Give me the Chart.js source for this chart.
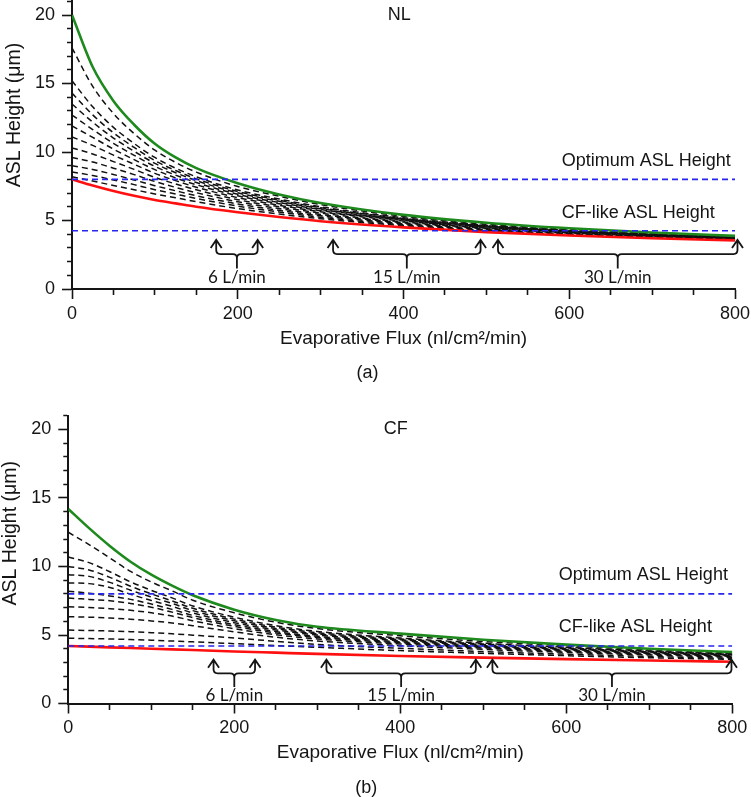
<!DOCTYPE html>
<html><head><meta charset="utf-8">
<script src="https://cdn.jsdelivr.net/npm/chart.js@4/dist/chart.umd.min.js"></script>
<style>
html,body{margin:0;padding:0;background:#fff;width:751px;height:797px;overflow:hidden;}
#wa{position:absolute;left:0;top:0;width:751px;height:390px;}
#wb{position:absolute;left:0;top:390px;width:751px;height:407px;}
</style></head><body>
<div id="wa"><canvas id="ca" width="751" height="390"></canvas></div>
<div id="wb"><canvas id="cb" width="751" height="407"></canvas></div>
<script>
// ---------- data ----------
const flux = [0,25,50,75,100,125,150,200,250,300,400,500,600,700,800];

const nlGreen = [20.0,16.2,13.73,11.99,10.6,9.6,8.82,7.72,6.9,6.28,5.41,4.84,4.43,4.12,3.88];
const nlRed   = [8.0,7.55,7.15,6.8,6.5,6.25,6.0,5.6,5.25,4.95,4.5,4.15,3.9,3.7,3.55];
const nlDashed = [
  [17.6,14.79,12.81,11.34,10.13,9.24,8.53,7.48,6.77,6.16,5.31,4.73,4.35,4.06,3.86],
  [15.2,13.30,11.80,10.62,9.60,8.82,8.19,7.23,6.57,6.00,5.20,4.65,4.29,4.01,3.82],
  [14.3,12.71,11.40,10.33,9.37,8.65,8.04,7.12,6.48,5.93,5.15,4.62,4.26,3.99,3.80],
  [13.5,12.18,11.02,10.05,9.17,8.49,7.91,7.02,6.40,5.86,5.11,4.59,4.24,3.97,3.79],
  [12.7,11.64,10.63,9.76,8.95,8.31,7.77,6.91,6.31,5.80,5.06,4.56,4.21,3.95,3.77],
  [11.9,11.07,10.21,9.44,8.71,8.11,7.61,6.80,6.22,5.72,5.01,4.52,4.19,3.93,3.75],
  [11.1,10.48,9.77,9.10,8.44,7.91,7.43,6.67,6.11,5.64,4.96,4.48,4.15,3.90,3.73],
  [10.3,9.86,9.30,8.73,8.15,7.67,7.24,6.52,6.00,5.54,4.89,4.44,4.12,3.88,3.70],
  [9.6,9.27,8.82,8.35,7.85,7.42,7.03,6.37,5.87,5.44,4.83,4.39,4.08,3.85,3.68],
  [9.0,8.73,8.36,7.96,7.54,7.17,6.81,6.21,5.74,5.34,4.76,4.34,4.04,3.82,3.65],
  [8.55,8.28,7.96,7.62,7.25,6.93,6.61,6.05,5.62,5.24,4.69,4.29,4.01,3.79,3.63],
  [8.2,7.88,7.56,7.25,6.94,6.66,6.37,5.87,5.47,5.13,4.62,4.24,3.97,3.75,3.60]
];

const cfGreen = [14.2,12.8,11.5,10.35,9.4,8.6,7.9,6.85,6.1,5.6,5.1,4.65,4.3,4.0,3.76];
const cfRed   = [4.2,4.15,4.1,4.05,4.0,3.95,3.9,3.8,3.71,3.62,3.47,3.35,3.24,3.14,3.05];
const cfDashed = [
  [12.5,11.60,10.62,9.64,8.87,8.22,7.54,6.62,5.93,5.47,4.95,4.53,4.21,3.92,3.69],
  [10.7,10.28,9.62,8.88,8.26,7.71,7.12,6.30,5.68,5.26,4.78,4.40,4.10,3.83,3.61],
  [10.0,9.75,9.21,8.56,8.00,7.49,6.95,6.16,5.57,5.17,4.71,4.34,4.05,3.80,3.58],
  [9.4,9.28,8.84,8.27,7.77,7.30,6.78,6.04,5.47,5.08,4.65,4.29,4.00,3.76,3.56],
  [8.8,8.75,8.47,7.97,7.52,7.09,6.61,5.90,5.37,5.00,4.58,4.23,3.96,3.72,3.53],
  [8.2,8.05,7.85,7.6,7.26,6.87,6.43,5.76,5.25,4.90,4.50,4.17,3.91,3.68,3.49],
  [7.7,7.6,7.5,7.3,7.03,6.67,6.27,5.63,5.15,4.82,4.43,4.12,3.87,3.65,3.46],
  [7.07,7.0,6.92,6.8,6.62,6.38,6.04,5.46,5.02,4.71,4.34,4.05,3.81,3.60,3.43],
  [6.34,6.3,6.24,6.15,6.03,5.88,5.68,5.23,4.84,4.56,4.22,3.95,3.73,3.54,3.37],
  [5.36,5.33,5.29,5.24,5.17,5.09,4.99,4.78,4.54,4.31,4.03,3.79,3.60,3.43,3.29],
  [4.76,4.74,4.71,4.67,4.62,4.56,4.50,4.37,4.23,4.10,3.86,3.66,3.49,3.34,3.22]
];

const optimumHeight = 8.0;
const nlCfLikeHeight = 4.25;
const cfCfLikeHeight = 4.2;

const flowLabels = ['6 L/min','15 L/min','30 L/min'];
const nlFlowRanges = [[174,224],[315,493],[514,803]];
const cfFlowRanges = [[175,225],[311,491],[511,799]];

const xTickLabels = [0,200,400,600,800];
const yTickLabels = [0,5,10,15,20];
const xMinorStep = 50, yMinorStep = 1;

const xTitle = 'Evaporative Flux (nl/cm²/min)';
const yTitle = 'ASL Height (μm)';

// ---------- styles / layout ----------
const FONT = '"Liberation Sans", Arial, sans-serif';
const INK = '#151515';

function lineSet(values, color, width, dash, order) {
  return {
    data: flux.map((f, i) => ({x: f, y: values[i]})),
    borderColor: color, borderWidth: width, borderDash: dash || [],
    pointRadius: 0, fill: false, cubicInterpolationMode: 'monotone', order: order
  };
}
function hLine(h, order) {
  return {
    data: [{x: 0, y: h}, {x: 800, y: h}],
    borderColor: '#2626ee', borderWidth: 1.6, borderDash: [6, 4],
    pointRadius: 0, fill: false, order: order
  };
}

const annotPlugin = {
  id: 'annot',
  afterDatasetsDraw(chart, args, o) {
    const {ctx} = chart; const x = chart.scales.x, y = chart.scales.y;
    const P = o.panel;
    ctx.save();
    ctx.fillStyle = INK;
    ctx.font = '18px ' + FONT;
    ctx.textBaseline = 'middle'; ctx.textAlign = 'left';
    P.texts.forEach(t => ctx.fillText(t.text, x.getPixelForValue(t.x), y.getPixelForValue(t.y)));
    ctx.strokeStyle = INK; ctx.lineWidth = 1.8; ctx.lineJoin = 'miter';
    const yTip = y.getPixelForValue(P.tip), yBr = y.getPixelForValue(P.brace);
    const yStem = y.getPixelForValue(P.stem), yLab = y.getPixelForValue(P.label);
    const r = 4;
    P.ranges.forEach((rg, i) => {
      const xa = x.getPixelForValue(rg[0]), xb = x.getPixelForValue(rg[1]);
      const xc = x.getPixelForValue((rg[0] + rg[1]) / 2);
      ctx.beginPath();
      [xa, xb].forEach(px => { ctx.moveTo(px - 5.5, yTip + 8); ctx.lineTo(px, yTip); ctx.lineTo(px + 5.5, yTip + 8); });
      ctx.moveTo(xa, yTip); ctx.lineTo(xa, yBr - r); ctx.quadraticCurveTo(xa, yBr, xa + r, yBr);
      ctx.lineTo(xc - r, yBr); ctx.quadraticCurveTo(xc, yBr, xc, yBr + r); ctx.lineTo(xc, yStem);
      ctx.moveTo(xc, yBr + r); ctx.quadraticCurveTo(xc, yBr, xc + r, yBr);
      ctx.lineTo(xb - r, yBr); ctx.quadraticCurveTo(xb, yBr, xb, yBr - r); ctx.lineTo(xb, yTip);
      ctx.stroke();
      ctx.font = '17px Lato, "Open Sans", sans-serif';
      ctx.textAlign = 'center';
      ctx.fillText(flowLabels[i], xc, yLab);
    });
    // y-axis title, centred where the original puts it
    ctx.font = '19.5px ' + FONT;
    ctx.textAlign = 'center'; ctx.textBaseline = 'middle';
    ctx.translate(P.yTitlePos[0], P.yTitlePos[1]);
    ctx.rotate(-Math.PI / 2);
    ctx.fillText(yTitle, 0, 0);
    ctx.restore();
  }
};

function makeChart(id, cfg) {
  const datasets = [];
  cfg.dashed.forEach(d => datasets.push(lineSet(d, '#111', 1.5, [6, 4], 3)));
  datasets.push(lineSet(cfg.red, '#ff1010', 2.6, null, 2));
  datasets.push(lineSet(cfg.green, '#1e8a1e', 2.6, null, 2));
  datasets.push(hLine(optimumHeight, 1));
  datasets.push(hLine(cfg.cfLike, 1));
  return new Chart(document.getElementById(id), {
    type: 'line',
    data: {datasets},
    plugins: [annotPlugin],
    options: {
      responsive: false, animation: false, events: [],
      layout: {padding: {left: 0, right: cfg.padRight, top: cfg.padTop, bottom: 0}},
      plugins: {
        legend: {display: false}, tooltip: {enabled: false},
        title: {display: true, position: 'bottom', text: cfg.caption, color: INK,
          font: {family: FONT, size: 18, lineHeight: 1, weight: 'normal'},
          padding: {top: 0, bottom: cfg.capPad}},
        annot: {panel: cfg.panel}
      },
      scales: {
        x: {
          type: 'linear', min: 0, max: 800,
          border: {display: true, color: INK, width: 2},
          grid: {drawOnChartArea: false, drawTicks: true, tickLength: 10, tickWidth: 1.6, tickColor: INK,
            tickBorderDash: c => (c.tick && !xTickLabels.includes(c.tick.value)) ? [5, 30] : []},
          ticks: {stepSize: xMinorStep, autoSkip: false, maxRotation: 0, padding: 4, color: INK,
            font: {family: FONT, size: 18},
            callback: v => xTickLabels.includes(v) ? String(v) : ''},
          title: {display: true, text: xTitle, color: INK,
            font: {family: FONT, size: 19}, padding: {top: 0, bottom: cfg.xTitlePad}},
          afterFit: s => { s.height = cfg.xAxisH; s.paddingLeft = 0; s.paddingRight = 0; }
        },
        y: {
          type: 'linear', min: 0, max: 21,
          border: {display: true, color: INK, width: 2},
          grid: {drawOnChartArea: false, drawTicks: true, tickLength: 10, tickWidth: 1.6, tickColor: INK,
            tickBorderDash: c => (c.tick && !yTickLabels.includes(c.tick.value)) ? [0, 5, 5, 0] : []},
          ticks: {stepSize: yMinorStep, autoSkip: false, padding: 7, color: INK,
            font: {family: FONT, size: 18},
            callback: v => yTickLabels.includes(v) ? String(v) : ''},
          title: {display: false},
          afterFit: s => { s.width = cfg.yAxisW; s.paddingTop = 0; s.paddingBottom = 0; }
        }
      }
    }
  });
}

makeChart('ca', {
  dashed: nlDashed, red: nlRed, green: nlGreen, cfLike: nlCfLikeHeight,
  caption: '(a)', capPad: 8, padRight: 16, padTop: 1.3, xAxisH: 75, yAxisW: 72, xTitlePad: 14,
  panel: {
    texts: [
      {text: 'NL', x: 381, y: 20.0},
      {text: 'Optimum ASL Height', x: 591, y: 9.35},
      {text: 'CF-like ASL Height', x: 591, y: 5.55}
    ],
    ranges: nlFlowRanges, tip: 3.58, brace: 2.55, stem: 1.5, label: 0.84,
    yTitlePos: [14.5, 115]
  }
});
makeChart('cb', {
  dashed: cfDashed, red: cfRed, green: cfGreen, cfLike: cfCfLikeHeight,
  caption: '(b)', capPad: 0, padRight: 18.7, padTop: 25.8, xAxisH: 75.5, yAxisW: 68.3, xTitlePad: 15,
  panel: {
    texts: [
      {text: 'CF', x: 380, y: 20.0},
      {text: 'Optimum ASL Height', x: 591, y: 9.38},
      {text: 'CF-like ASL Height', x: 591, y: 5.58}
    ],
    ranges: cfFlowRanges, tip: 3.2, brace: 2.2, stem: 1.2, label: 0.55,
    yTitlePos: [10.5, 143.3]
  }
});
</script>
</body></html>
